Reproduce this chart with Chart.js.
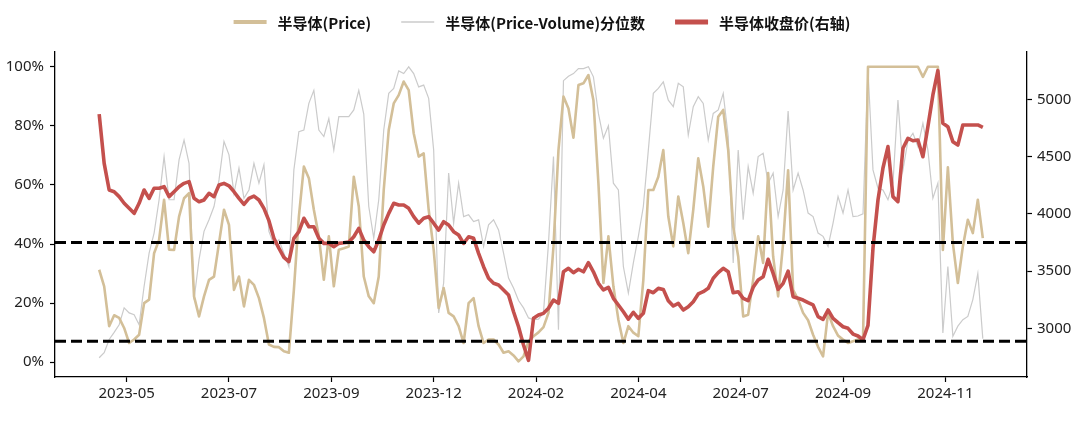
<!DOCTYPE html>
<html>
<head>
<meta charset="utf-8">
<script src="https://cdn.jsdelivr.net/npm/chart.js@4.4.1/dist/chart.umd.min.js"></script>
<style>
  html, body { margin: 0; padding: 0; background: #fff; }
  #wrap { width: 1080px; height: 424px; }
</style>
</head>
<body>
<div id="wrap"><canvas id="chartCanvas" width="1080" height="424"></canvas></div>
<script>
// x axis ticks (positions in trading-day index) and their labels
const tickPos = [5.5, 26, 46.5, 67, 87.5, 108, 128.5, 149, 169.5];
const tickLabels = ["2023-05", "2023-07", "2023-09", "2023-12", "2024-02", "2024-04", "2024-07", "2024-09", "2024-11"];
const leftTicks = [0, 20, 40, 60, 80, 100];
const rightTicks = [3000, 3500, 4000, 4500, 5000];

// 半导体(Price) percentile, %
const pricePct = [
  31.3, 25.7, 12.2, 15.9, 15.0, 11.6, 6.5, 7.7, 9.3, 20.0,
  21.2, 36.9, 41.4, 55.0, 38.1, 38.0, 49.3, 55.5, 57.2, 22.3,
  15.5, 22.3, 27.9, 29.0, 40.3, 51.6, 46.5, 24.5, 29.0, 18.9,
  27.9, 26.2, 21.7, 15.0, 6.0, 5.2, 5.1, 3.7, 3.2, 24.5,
  49.3, 66.2, 62.3, 51.6, 42.6, 27.9, 42.6, 25.7, 38.1, 38.6,
  39.2, 62.8, 52.7, 29.0, 22.3, 20.0, 29.0, 58.3, 78.6, 87.6,
  90.4, 95.0, 92.1, 77.5, 69.6, 70.7, 51.6, 38.1, 18.4, 25.1,
  16.7, 15.5, 12.2, 6.5, 20.0, 21.7, 12.2, 6.5, 7.7, 7.7,
  6.0, 3.2, 3.7, 2.3, 0.3, 2.0, 7.1, 8.8, 10.1, 11.9,
  16.7, 39.2, 71.8, 89.9, 85.9, 76.0, 93.8, 94.4, 97.2, 88.7,
  60.6, 26.8, 42.6, 25.7, 14.4, 6.5, 12.2, 10.0, 8.8, 27.9,
  58.3, 58.3, 62.8, 71.8, 49.3, 39.2, 56.1, 47.1, 36.9, 51.6,
  69.0, 59.5, 45.9, 66.2, 83.1, 85.4, 71.8, 45.9, 35.8, 15.5,
  16.1, 27.9, 42.6, 33.6, 64.0, 35.8, 22.3, 40.3, 65.0, 24.5,
  21.2, 16.7, 14.2, 9.3, 5.2, 2.0, 16.7, 12.2, 9.0, 7.7,
  6.5, 7.1, 7.7, 7.3, 100, 100, 100, 100, 100, 100,
  100, 100, 100, 100, 100, 96.6, 100, 100, 100, 38.0,
  66.0, 40.3, 26.8, 39.2, 48.2, 43.7, 55.0, 42.0
];

// 半导体(Price-Volume)分位数, %
const pvPct = [
  1.5, 3.2, 7.7, 10.1, 12.7, 18.4, 16.7, 16.1, 12.7, 25.7,
  36.9, 43.7, 55.0, 69.6, 55.0, 55.0, 68.5, 75.2, 67.3, 21.2,
  34.7, 44.3, 48.2, 52.7, 61.7, 74.7, 70.2, 57.2, 65.7, 55.5,
  58.3, 67.3, 60.6, 66.8, 44.3, 39.8, 41.4, 36.9, 32.4, 65.1,
  78.0, 78.6, 87.6, 92.0, 78.6, 76.4, 82.5, 71.8, 83.1, 83.1,
  83.1, 85.4, 92.0, 84.0, 52.7, 42.0, 55.0, 78.6, 91.0, 92.7,
  98.6, 97.7, 100, 97.7, 93.2, 93.8, 89.3, 71.8, 16.7, 26.8,
  64.0, 47.1, 60.6, 49.3, 49.9, 47.6, 48.2, 39.2, 46.5, 48.2,
  44.8, 36.9, 28.5, 25.1, 20.9, 18.4, 15.0, 14.4, 14.6, 16.7,
  40.3, 69.6, 11.0, 95.3, 96.8, 97.7, 99.4, 99.4, 100, 96.6,
  84.2, 75.8, 80.0, 60.6, 58.3, 32.4, 23.4, 33.6, 42.6, 52.7,
  71.8, 91.0, 92.7, 94.9, 88.7, 86.5, 94.4, 93.2, 76.9, 86.5,
  89.9, 87.6, 75.2, 84.2, 85.4, 91.0, 76.4, 33.6, 71.8, 48.2,
  66.2, 57.2, 69.6, 70.7, 60.6, 64.0, 49.3, 58.3, 85.0, 58.3,
  64.0, 58.3, 50.5, 49.3, 43.7, 42.6, 39.2, 47.1, 56.1, 50.5,
  58.3, 49.3, 49.5, 50.2, 98.9, 65.1, 58.9, 58.3, 55.0, 60.6,
  88.7, 65.1, 75.0, 77.5, 73.0, 80.9, 71.8, 55.5, 60.6, 9.9,
  32.4, 8.8, 12.2, 14.4, 15.5, 21.2, 30.0, 8.0
];

// 半导体收盘价 (right axis)
const closePrice = [
  4870, 4440, 4208, 4193, 4150, 4092, 4048, 4004, 4092, 4208,
  4135, 4223, 4223, 4237, 4150, 4193, 4237, 4266, 4281, 4135,
  4106, 4121, 4179, 4150, 4251, 4266, 4245, 4193, 4135, 4083,
  4135, 4155, 4121, 4048, 3940, 3786, 3700, 3620, 3582, 3786,
  3844, 3961, 3887, 3887, 3786, 3742, 3742, 3713, 3742, 3747,
  3753, 3800, 3873, 3770, 3713, 3669, 3771, 3902, 4004, 4092,
  4077, 4077, 4048, 3975, 3918, 3961, 3975, 3918, 3858, 3931,
  3902, 3844, 3815, 3742, 3800, 3786, 3655, 3538, 3437, 3393,
  3378, 3335, 3291, 3145, 3014, 2854, 2720, 3087, 3116, 3131,
  3175, 3247, 3218, 3494, 3524, 3486, 3516, 3494, 3573, 3494,
  3393, 3335, 3358, 3262, 3204, 3145, 3080, 3140, 3087, 3131,
  3329, 3311, 3349, 3340, 3241, 3195, 3218, 3160, 3189, 3233,
  3300, 3320, 3349, 3437, 3486, 3524, 3494, 3311, 3320, 3262,
  3241, 3358, 3422, 3451, 3603, 3480, 3340, 3393, 3500, 3276,
  3262, 3247, 3224, 3204, 3102, 3079, 3160, 3087, 3049, 3014,
  3000, 2950, 2933, 2900, 3026, 3700, 4121, 4400, 4587, 4150,
  4106, 4572, 4659, 4638, 4645, 4499, 4761, 5038, 5250, 4790,
  4761, 4630, 4600, 4776, 4776, 4776, 4776, 4755
];

// dashed reference levels on the left axis, %
const refLevels = [40.5, 7.1];

const xIdx = pricePct.map((_, i) => i);
const pad = (xIdx.length - 1) * 0.05;
const xMin = -pad;
const xMax = xIdx.length - 1 + pad;

const ctx = document.getElementById("chartCanvas").getContext("2d");

// legend drawn above the plot, line sample + bold label
const topLegend = {
  id: "topLegend",
  afterDraw(chart) {
    const c = chart.ctx;
    const items = chart.data.datasets.filter(d => d.label);
    c.save();
    c.font = 'bold 15px "Noto Sans CJK SC"';
    c.textBaseline = "middle";
    const sample = 33, gap = 11, sep = 30;
    const widths = items.map(d => c.measureText(d.label).width);
    let total = widths.reduce((a, w) => a + sample + gap + w, 0) + sep * (items.length - 1);
    let x = 542 - total / 2;
    const y = 22;
    items.forEach((d, i) => {
      c.strokeStyle = d.borderColor;
      c.lineWidth = d.legendWidth;
      c.beginPath();
      c.moveTo(x, y);
      c.lineTo(x + sample, y);
      c.stroke();
      c.fillStyle = "#111";
      c.fillText(d.label, x + sample + gap, y + 1);
      x += sample + gap + widths[i] + sep;
    });
    c.restore();
  }
};

const refSets = refLevels.map(v => ({
  data: [{ x: xMin, y: v }, { x: xMax, y: v }],
  yAxisID: "y",
  borderColor: "#000",
  borderWidth: 3,
  borderDash: [11, 5],
  pointRadius: 0,
  order: 0
}));

const axisGrid = { drawOnChartArea: false, drawTicks: true, tickLength: 5, tickColor: "#000", tickWidth: 1.2 };
const axisBorder = { color: "#000", width: 1.3 };
const tickFont = { family: "Noto Sans", size: 15 };

new Chart(ctx, {
  type: "line",
  data: {
    labels: xIdx,
    datasets: [
      {
        label: "半导体(Price)",
        data: pricePct,
        yAxisID: "y",
        borderColor: "#D3BF98",
        borderWidth: 2.6,
        legendWidth: 4,
        pointRadius: 0,
        borderJoinStyle: "round",
        order: 2
      },
      {
        label: "半导体(Price-Volume)分位数",
        data: pvPct,
        yAxisID: "y",
        borderColor: "#CBCBCB",
        borderWidth: 1.2,
        legendWidth: 1.6,
        pointRadius: 0,
        order: 3
      },
      {
        label: "半导体收盘价(右轴)",
        data: closePrice,
        yAxisID: "y1",
        borderColor: "#C4504D",
        borderWidth: 3.6,
        legendWidth: 5,
        pointRadius: 0,
        borderJoinStyle: "round",
        order: 1
      },
      ...refSets
    ]
  },
  options: {
    responsive: false,
    animation: false,
    devicePixelRatio: 1,
    layout: { padding: { top: 52, left: 0, right: 0, bottom: 0 } },
    plugins: { legend: { display: false }, tooltip: { enabled: false } },
    scales: {
      x: {
        type: "linear",
        min: xMin,
        max: xMax,
        afterFit: s => { s.height = 47; },
        afterBuildTicks: s => { s.ticks = tickPos.map(v => ({ value: v })); },
        ticks: {
          callback: (v, i) => tickLabels[i],
          font: tickFont,
          color: "#222",
          padding: 3,
          maxRotation: 0,
          autoSkip: false
        },
        grid: axisGrid,
        border: axisBorder
      },
      y: {
        position: "left",
        min: -5,
        max: 105,
        afterFit: s => { s.width = 55; },
        afterBuildTicks: s => { s.ticks = leftTicks.map(v => ({ value: v })); },
        ticks: {
          callback: v => v + "%",
          font: tickFont,
          color: "#222",
          padding: 6
        },
        grid: axisGrid,
        border: axisBorder
      },
      y1: {
        position: "right",
        min: 2575,
        max: 5413,
        afterFit: s => { s.width = 53; },
        afterBuildTicks: s => { s.ticks = rightTicks.map(v => ({ value: v })); },
        ticks: {
          callback: v => String(v),
          font: tickFont,
          color: "#222",
          padding: 5
        },
        grid: axisGrid,
        border: axisBorder
      }
    }
  },
  plugins: [topLegend]
});
</script>
</body>
</html>
